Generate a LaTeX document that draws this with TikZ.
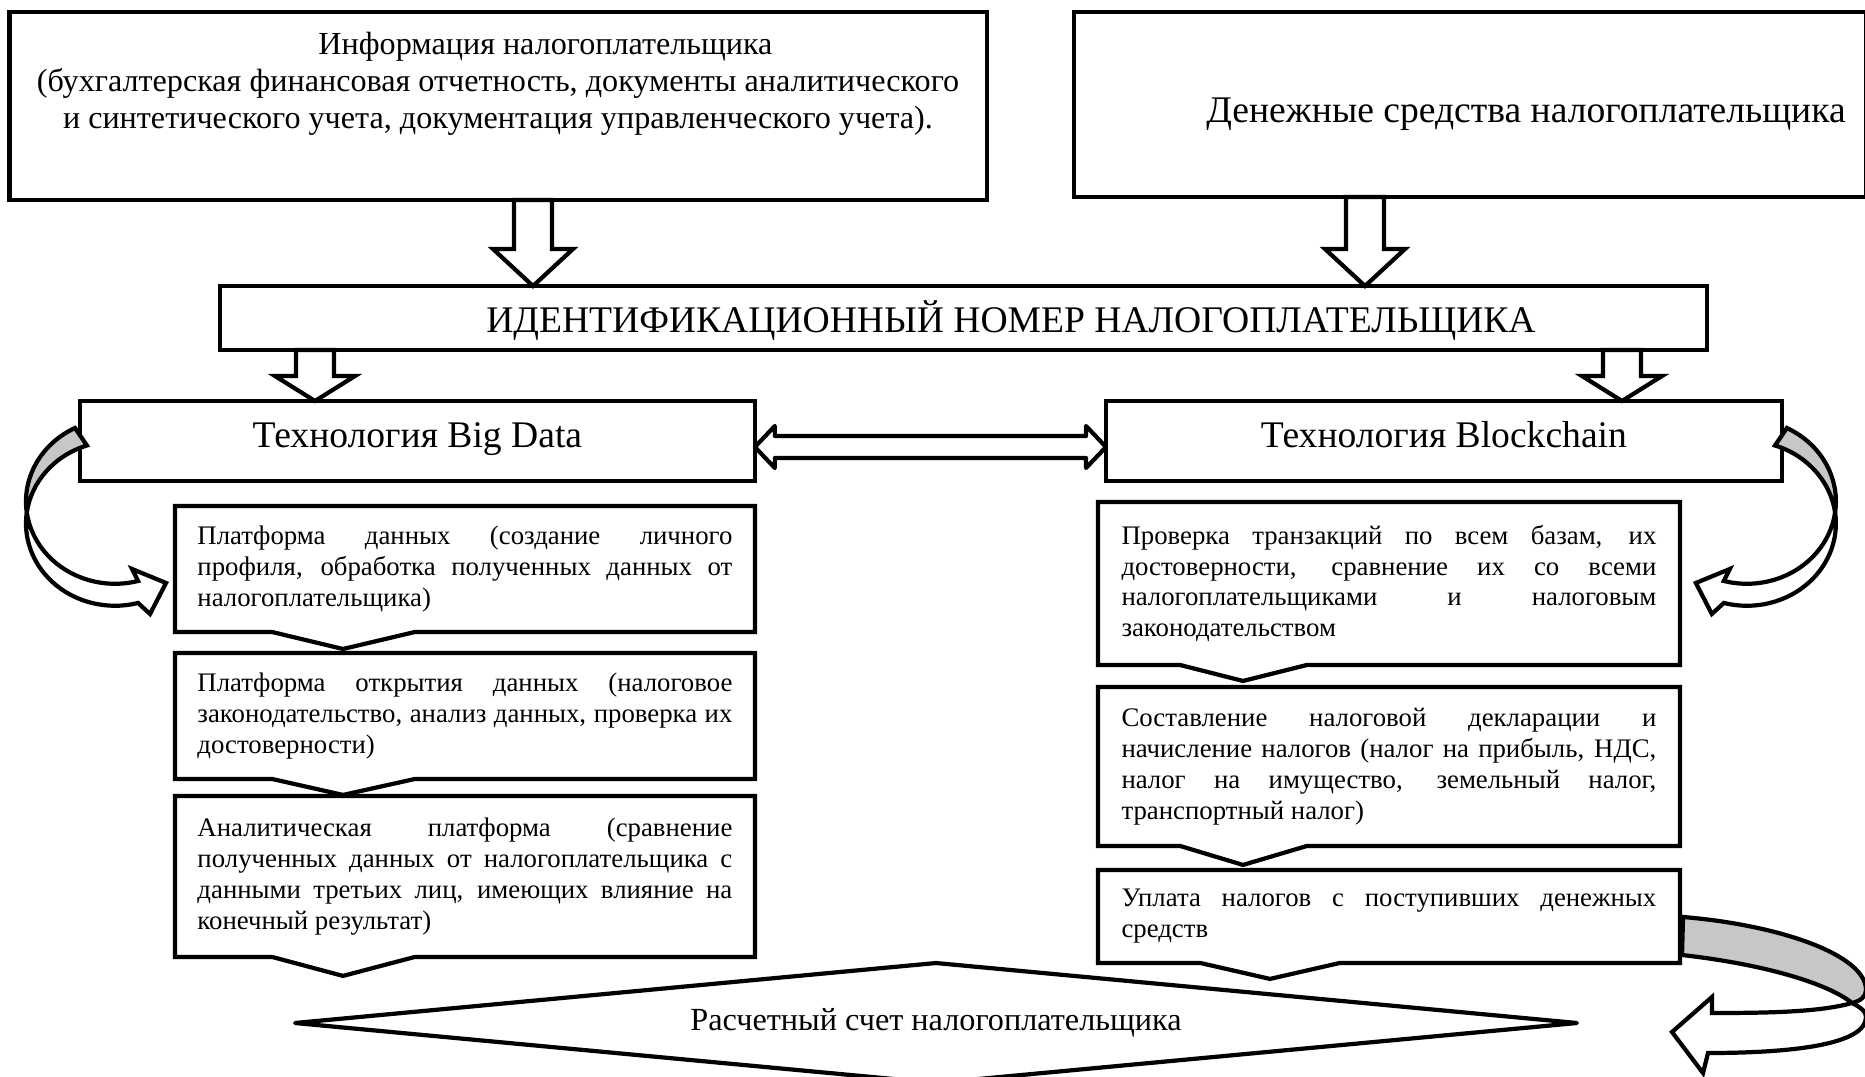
\documentclass[tikz,border=0pt]{standalone}
\usepackage{fontspec}
\setmainfont{Liberation Serif}
\usetikzlibrary{positioning,calc,shapes.geometric}
\setlength{\parindent}{0pt}
\tolerance=10000
\hyphenpenalty=10000

% outlined block arrow pointing down: top point, tip point, head length
\newcommand{\blockdown}[3]{%
  \filldraw[blockarrow] ($(#1)+(-19,0)$) -- ($(#2)+(-19,-#3)$) -- ($(#2)+(-40,-#3)$) -- (#2)
    -- ($(#2)+(40,-#3)$) -- ($(#2)+(19,-#3)$) -- ($(#1)+(19,0)$) -- cycle;}
% box outline with a V notch at the bottom: node, left, tip, right, depth
\newcommand{\notchbox}[5]{%
  \draw[platline] (#1.north west) -- (#1.north east) -- (#1.south east) -- ($(#1.south west)+(#4,0)$)
    -- ($(#1.south west)+(#3,#5)$) -- ($(#1.south west)+(#2,0)$) -- (#1.south west) -- cycle;}

\begin{document}
\begin{tikzpicture}[x=0.02cm, y=-0.02cm, line width=2.4pt,
boxframe/.style={draw, rectangle, inner sep=0pt, outer sep=0pt, anchor=north west},
headtxt/.style={font=\fontsize{21.4}{25}\selectfont},
plat/.style={rectangle, inner sep=0pt, outer sep=0pt, minimum width=11.6cm, text width=10.7cm, align=justify, font=\fontsize{15.25}{17.6}\selectfont},
platline/.style={draw, line join=miter},
blockarrow/.style={draw, fill=white},
bandback/.style={draw, fill=black!22},
bandfront/.style={draw, fill=white}]
\useasboundingbox (0,0) rectangle (1865,1077);

% top row
\node[boxframe, minimum width=19.55cm, minimum height=3.76cm] (info) at (9.5,12) {};
\node[font=\fontsize{18.3}{21}\selectfont, align=center] (infotxt) at (498,83.5) {\hspace*{1.9cm}Информация налогоплательщика\\(бухгалтерская финансовая отчетность, документы аналитического\\и синтетического учета, документация управленческого учета).};
\node[boxframe, minimum width=15.84cm, minimum height=3.7cm] (money) at (1074,12) {};
\node[headtxt] (moneytxt) at (1526,114) {Денежные средства налогоплательщика};

\node[boxframe, minimum width=29.74cm, minimum height=1.28cm] (idn) at (220,286) {};
\node[headtxt] (idtxt) at (1011,321) {ИДЕНТИФИКАЦИОННЫЙ НОМЕР НАЛОГОПЛАТЕЛЬЩИКА};

\node[boxframe, headtxt, text height=0.9em, text depth=0.15em, minimum width=13.5cm, minimum height=1.6cm] (bd) at (80,401) {Технология Big Data};
\node[boxframe, headtxt, text height=0.9em, text depth=0.15em, minimum width=13.52cm, minimum height=1.6cm] (bc) at (1106,401) {Технология Blockchain};

% platforms
\node[plat, minimum height=2.52cm, anchor=north west] (bd1) at (175,506) {Платформа данных (создание личного\linebreak профиля, обработка полученных данных от\linebreak налогоплательщика)};
\node[plat, minimum height=2.52cm, below=0.42cm of bd1] (bd2) {Платформа открытия данных (налоговое\linebreak законодательство, анализ данных, проверка их\linebreak достоверности)};
\node[plat, minimum height=3.22cm, below=0.34cm of bd2] (bd3) {Аналитическая платформа (сравнение\linebreak полученных данных от налогоплательщика с\linebreak данными третьих лиц, имеющих влияние на\linebreak конечный результат)};
\node[plat, minimum width=11.64cm, minimum height=3.26cm, anchor=north west] (bc1) at (1098,502) {Проверка транзакций по всем базам, их\linebreak достоверности, сравнение их со всеми\linebreak налогоплательщиками и налоговым\linebreak законодательством};
\node[plat, minimum width=11.64cm, minimum height=3.18cm, below=0.44cm of bc1] (bc2) {Составление налоговой декларации и\linebreak начисление налогов (налог на прибыль, НДС,\linebreak налог на имущество, земельный налог,\linebreak транспортный налог)};
\node[plat, minimum width=11.64cm, minimum height=1.86cm, below=0.48cm of bc2] (bc3) {Уплата налогов с поступивших денежных\linebreak средств};

\notchbox{bd1}{97}{168}{240}{17}
\notchbox{bd2}{97}{168}{240}{16}
\notchbox{bd3}{97}{168}{240}{19}
\notchbox{bc1}{82}{145}{209}{16}
\notchbox{bc2}{82}{145}{209}{19}
\notchbox{bc3}{102}{172}{242}{16}

% block arrows
\blockdown{info.south -| 533,0}{idn.north -| 533,0}{37}
\blockdown{money.south -| 1365,0}{idn.north -| 1365,0}{37}
\blockdown{idn.south -| 315,0}{bd.north -| 315,0}{25}
\blockdown{idn.south -| 1622,0}{bc.north -| 1622,0}{25}

\coordinate (dl) at ($(bd.east)+(0,6)$);
\coordinate (dr) at ($(bc.west)+(0,6)$);
\filldraw[blockarrow, line join=round] (dl) -- ++(20,-21) -- ++(0,10) -- ($(dr)+(-20,-11)$) -- ++(0,-10) -- (dr) -- ++(-20,21) -- ++(0,-10) -- ($(dl)+(20,11)$) -- ++(0,10) -- cycle;

% curved arrows
\filldraw[bandback] (bd.north west) ++(-5,27) arc[start angle=243.3, end angle=172.3, x radius=89, y radius=82.3] arc[start angle=187.7, end angle=251.6, x radius=89, y radius=82.3] -- cycle;
\filldraw[bandfront] (bd.north west) ++(-53.2,111.5) arc[start angle=172.3, end angle=75, x radius=89, y radius=82.3] -- ++(-6,-12) -- ++(34,14) -- ++(-16,31) -- ++(-12,-11) arc[start angle=75, end angle=187.7, x radius=89, y radius=82.3] -- cycle;
\begin{scope}[xscale=-1]
\filldraw[bandback] (bc.north east) ++(-5,27) arc[start angle=243.3, end angle=172.3, x radius=89, y radius=82.3] arc[start angle=187.7, end angle=251.6, x radius=89, y radius=82.3] -- cycle;
\filldraw[bandfront] (bc.north east) ++(-53.2,111.5) arc[start angle=172.3, end angle=75, x radius=89, y radius=82.3] -- ++(-6,-12) -- ++(34,14) -- ++(-16,31) -- ++(-12,-11) arc[start angle=75, end angle=187.7, x radius=89, y radius=82.3] -- cycle;
\end{scope}
\filldraw[bandback] (1683,917) .. controls (1780,925) and (1866,955) .. (1866,990) .. controls (1866,997) and (1860,1001) .. (1852,1003) .. controls (1830,985) and (1770,965) .. (1682,955) -- cycle;
\filldraw[bandfront] (1852,1003) .. controls (1820,1012) and (1770,1013) .. (1712,1013) -- (1712,997) -- (1672,1032) -- (1703,1073) -- (1708,1053) .. controls (1790,1053) and (1866,1045) .. (1866,1017) .. controls (1866,1012) and (1862,1008) .. (1852,1003) -- cycle;

% account
\node[diamond, draw, line join=round, aspect=10.7, minimum width=25.64cm, minimum height=2.4cm, inner sep=0pt, outer sep=0pt, font=\fontsize{18.35}{21}\selectfont] (acc) at (936,1023) {Расчетный счет налогоплательщика};
\end{tikzpicture}
\end{document}
